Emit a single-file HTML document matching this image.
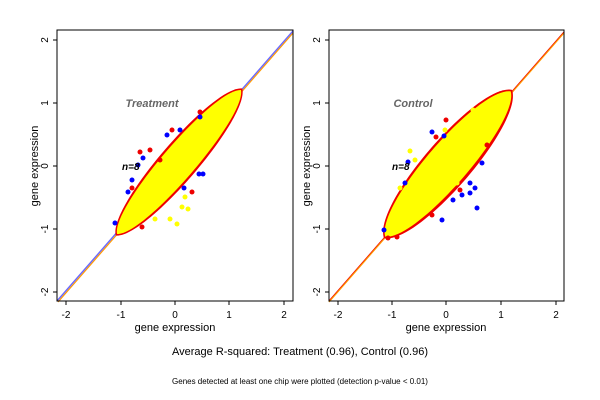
<!DOCTYPE html>
<html><head><style>
body{margin:0;background:#fff;}
svg{display:block;font-family:"Liberation Sans",sans-serif;}
</style></head><body>
<svg width="600" height="400" viewBox="0 0 600 400">
<rect width="600" height="400" fill="#fff"/>
<!-- Plot 1 -->
<g>
<line x1="57" y1="301" x2="293" y2="31" stroke="#6a6aff" stroke-width="1.5"/>
<line x1="58" y1="302" x2="293" y2="33" stroke="#ff9a00" stroke-width="1.2"/>
<g transform="translate(179,162) rotate(-49.3)">
<path d="M-97 0 C-80 -25 80 -25 97 0 C80 25 -80 25 -97 0Z" fill="#e00"/>
<path d="M-95 0 C-78 -22 78 -22 95 0 C78 22 -78 22 -95 0Z" fill="#ff0"/>
</g>
<g fill="#00f">
<circle cx="143" cy="158" r="2.5"/><circle cx="132" cy="180" r="2.5"/><circle cx="128" cy="192" r="2.5"/><circle cx="199" cy="174" r="2.5"/><circle cx="203" cy="174" r="2.5"/><circle cx="184" cy="188" r="2.5"/><circle cx="180" cy="130" r="2.5"/><circle cx="167" cy="135" r="2.5"/><circle cx="200" cy="117" r="2.5"/><circle cx="115" cy="223" r="2.5"/><circle cx="138" cy="165" r="2.5"/>
</g>
<g fill="#e00">
<circle cx="140" cy="152" r="2.5"/><circle cx="160" cy="160" r="2.5"/><circle cx="172" cy="130" r="2.5"/><circle cx="200" cy="112" r="2.5"/><circle cx="192" cy="192" r="2.5"/><circle cx="142" cy="227" r="2.5"/><circle cx="132" cy="188" r="2.5"/><circle cx="150" cy="150" r="2.5"/>
</g>
<g fill="#ff0">
<circle cx="182" cy="207" r="2.5"/><circle cx="188" cy="209" r="2.5"/><circle cx="170" cy="219" r="2.5"/><circle cx="177" cy="224" r="2.5"/><circle cx="185" cy="197" r="2.5"/><circle cx="155" cy="219" r="2.5"/>
</g>
<rect x="57" y="30" width="236" height="271" fill="none" stroke="#000"/>
<text x="152" y="107" font-size="11" font-weight="bold" font-style="italic" fill="#666" text-anchor="middle">Treatment</text>
<text x="122" y="170" font-size="10" font-weight="bold" font-style="italic" fill="#000">n=8</text>
<g stroke="#000"><line x1="66" y1="301" x2="66" y2="305"/><line x1="121" y1="301" x2="121" y2="305"/><line x1="175" y1="301" x2="175" y2="305"/><line x1="229" y1="301" x2="229" y2="305"/><line x1="284" y1="301" x2="284" y2="305"/>
<line x1="53" y1="40" x2="57" y2="40"/><line x1="53" y1="103" x2="57" y2="103"/><line x1="53" y1="166" x2="57" y2="166"/><line x1="53" y1="229" x2="57" y2="229"/><line x1="53" y1="292" x2="57" y2="292"/></g>
<g font-size="10" text-anchor="middle"><text x="66" y="318">-2</text><text x="121" y="318">-1</text><text x="175" y="318">0</text><text x="229" y="318">1</text><text x="284" y="318">2</text></g>
<g font-size="10" text-anchor="middle">
<text transform="translate(48,40) rotate(-90)">2</text><text transform="translate(48,103) rotate(-90)">1</text><text transform="translate(48,166) rotate(-90)">0</text><text transform="translate(48,229) rotate(-90)">-1</text><text transform="translate(48,292) rotate(-90)">-2</text></g>
<text x="175" y="331" font-size="11" text-anchor="middle">gene expression</text>
<text transform="translate(38,166) rotate(-90)" font-size="11" text-anchor="middle">gene expression</text>
</g>
<!-- Plot 2 -->
<g>
<line x1="329" y1="301" x2="564" y2="32" stroke="#e00" stroke-width="1.2"/>
<line x1="329" y1="302" x2="564" y2="33" stroke="#ff9a00" stroke-width="1.2"/>
<g transform="translate(448,164) rotate(-49.2)">
<path d="M-98 0 C-80 -31 80 -31 98 0 C80 31 -80 31 -98 0Z" fill="#e00"/>
<path d="M-96 0 C-78 -28 78 -28 96 0 C78 27 -78 27 -96 0Z" fill="#ff0"/>
</g>
<g fill="#00f">
<circle cx="432" cy="132" r="2.5"/><circle cx="444" cy="136" r="2.5"/><circle cx="408" cy="162" r="2.5"/><circle cx="470" cy="183" r="2.5"/><circle cx="475" cy="188" r="2.5"/><circle cx="470" cy="193" r="2.5"/><circle cx="462" cy="195" r="2.5"/><circle cx="477" cy="208" r="2.5"/><circle cx="453" cy="200" r="2.5"/><circle cx="442" cy="220" r="2.5"/><circle cx="405" cy="183" r="2.5"/><circle cx="482" cy="163" r="2.5"/><circle cx="384" cy="230" r="2.5"/>
</g>
<g fill="#e00">
<circle cx="446" cy="120" r="2.5"/><circle cx="436" cy="137" r="2.5"/><circle cx="460" cy="190" r="2.5"/><circle cx="432" cy="215" r="2.5"/><circle cx="388" cy="238" r="2.5"/><circle cx="397" cy="237" r="2.5"/><circle cx="487" cy="145" r="2.5"/>
</g>
<g fill="#ff0">
<circle cx="410" cy="151" r="2.5"/><circle cx="415" cy="160" r="2.5"/><circle cx="473" cy="110" r="2.5"/><circle cx="445" cy="130" r="2.5"/><circle cx="457" cy="183" r="2.5"/><circle cx="400" cy="188" r="2.5"/>
</g>
<rect x="329" y="30" width="235" height="271" fill="none" stroke="#000"/>
<text x="413" y="107" font-size="11" font-weight="bold" font-style="italic" fill="#666" text-anchor="middle">Control</text>
<text x="392" y="170" font-size="10" font-weight="bold" font-style="italic" fill="#000">n=8</text>
<g stroke="#000"><line x1="338" y1="301" x2="338" y2="305"/><line x1="392" y1="301" x2="392" y2="305"/><line x1="446" y1="301" x2="446" y2="305"/><line x1="501" y1="301" x2="501" y2="305"/><line x1="556" y1="301" x2="556" y2="305"/>
<line x1="325" y1="40" x2="329" y2="40"/><line x1="325" y1="103" x2="329" y2="103"/><line x1="325" y1="166" x2="329" y2="166"/><line x1="325" y1="229" x2="329" y2="229"/><line x1="325" y1="292" x2="329" y2="292"/></g>
<g font-size="10" text-anchor="middle"><text x="338" y="318">-2</text><text x="392" y="318">-1</text><text x="446" y="318">0</text><text x="501" y="318">1</text><text x="556" y="318">2</text></g>
<g font-size="10" text-anchor="middle">
<text transform="translate(320,40) rotate(-90)">2</text><text transform="translate(320,103) rotate(-90)">1</text><text transform="translate(320,166) rotate(-90)">0</text><text transform="translate(320,229) rotate(-90)">-1</text><text transform="translate(320,292) rotate(-90)">-2</text></g>
<text x="446" y="331" font-size="11" text-anchor="middle">gene expression</text>
<text transform="translate(310,166) rotate(-90)" font-size="11" text-anchor="middle">gene expression</text>
</g>
<text x="300" y="355" font-size="11" text-anchor="middle">Average R-squared: Treatment (0.96), Control (0.96)</text>
<text x="300" y="384" font-size="8" text-anchor="middle">Genes detected at least one chip were plotted (detection p-value &lt; 0.01)</text>
</svg>
</body></html>
